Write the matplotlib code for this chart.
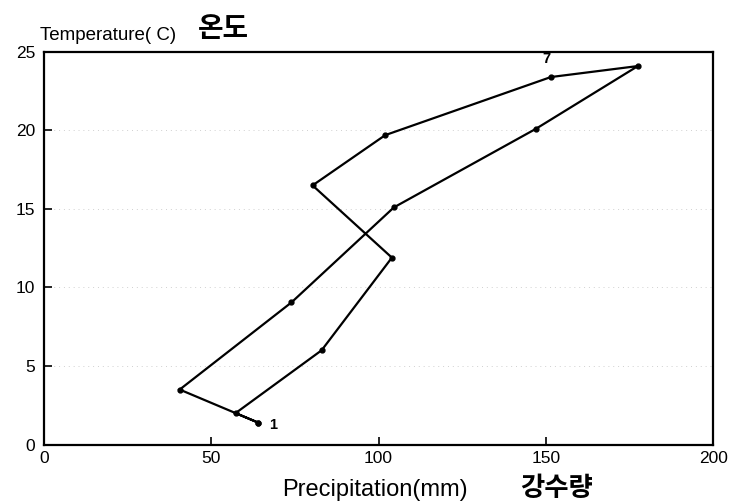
import matplotlib

matplotlib.use("Agg")
import matplotlib.pyplot as plt

# monthly climate values (precipitation mm, temperature C), month 1..12
months = [1, 2, 3, 4, 5, 6, 7, 8, 9, 10, 11, 12]
precip = [64, 57.3, 83, 104, 80.3, 102, 151.5, 177.5, 147, 104.6, 74, 40.6]
temp = [1.4, 2.0, 6.0, 11.9, 16.5, 19.7, 23.4, 24.1, 20.1, 15.1, 9.05, 3.5]
labelled = [1, 7]

xticks = [0, 50, 100, 150, 200]
yticks = [0, 5, 10, 15, 20, 25]

LATIN = ["Liberation Sans", "DejaVu Sans"]
KOREAN = ["Noto Sans CJK KR", "DejaVu Sans"]
plt.rcParams["font.family"] = LATIN

fig = plt.figure(figsize=(7.3, 5.04), dpi=100)
ax = fig.add_axes([0.060, 0.118, 0.917, 0.779])

# closed loop: month 12 back to month 1
xs = precip + precip[:1]
ys = temp + temp[:1]
ax.plot(xs, ys, color="black", lw=1.6, marker="o", ms=3.5, solid_joinstyle="miter")

for m in labelled:
    i = months.index(m)
    if m == 1:
        ax.annotate(str(m), (precip[i], temp[i]), xytext=(8, -2), textcoords="offset points",
                    fontsize=10.5, fontweight="bold", va="center")
    else:
        ax.annotate(str(m), (precip[i], temp[i]), xytext=(-3, 10), textcoords="offset points",
                    fontsize=10.5, fontweight="bold", ha="center")

# faint dotted guide lines, as in the scanned original
for yv in yticks[1:-1]:
    ax.axhline(yv, color="#d0d0d0", lw=0.7, ls=(0, (1, 4)), zorder=0)

ax.set_xlim(0, 200)
ax.set_ylim(0, 25)
ax.set_xticks(xticks)
ax.set_yticks(yticks)
ax.tick_params(direction="in", length=6, width=1.2, labelsize=12.5)
ax.tick_params(axis="x", pad=5)
ax.tick_params(axis="y", pad=6)
for s in ax.spines.values():
    s.set_linewidth(1.6)

fig.text(0.386, 0.006, "Precipitation(mm)", fontsize=17, family=LATIN, ha="left", va="bottom")
fig.text(0.712, 0.004, "강수량", fontsize=19, family=KOREAN, fontweight="bold", ha="left", va="bottom")
fig.text(0.055, 0.912, "Temperature( C)", fontsize=13.5, family=LATIN, ha="left", va="bottom")
fig.text(0.271, 0.915, "온도", fontsize=20, family=KOREAN, fontweight="bold", ha="left", va="bottom")

fig.savefig("out.png", dpi=100)
